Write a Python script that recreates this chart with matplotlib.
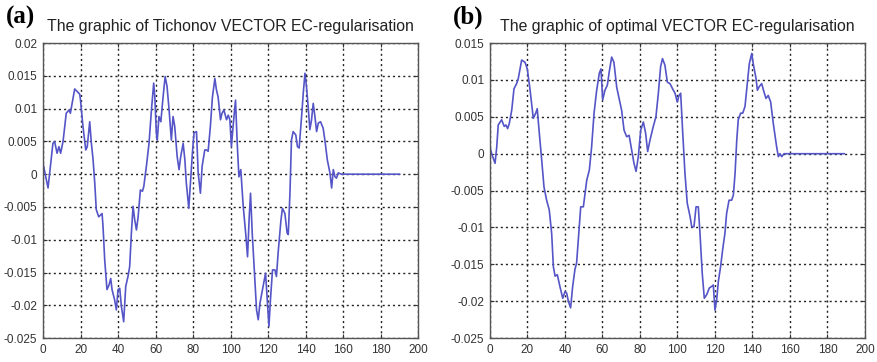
import numpy as np
import matplotlib.pyplot as plt

# panel (a): Tichonov vector EC-regularisation
xa = [0, 2.7, 5.3, 6.2, 7.5, 8.5, 9.4, 10.7, 12.4, 13.9, 14.6, 16.9, 19.6, 20, 21.3,
      22.8, 23.6, 24.9, 25.8, 26.7, 27.6, 28.4, 29.7, 31.5, 32, 32.9, 34.1, 35.2, 36.1,
      36.8, 38.2, 39.1, 40, 40.9, 41.8, 43, 44.1, 45.3, 46.2, 47.1, 48, 48.9, 49.8, 50.7,
      51.9, 53, 53.7, 55.1, 56.5, 57.8, 59, 59.6, 60.4, 60.9, 61.8, 62.8, 64, 65.1, 66.1,
      67.2, 68.4, 69.3, 70.2, 71.5, 72.5, 73.4, 74.7, 75.6, 76.4, 77.7, 78.8, 79.6, 80.5,
      81.8, 82.7, 83.9, 84.8, 86.2, 87.1, 88, 89.2, 90.3, 91.6, 92.4, 93.3, 94.6, 95.4,
      96.4, 97.8, 98.7, 99.6, 100.4, 101.3, 102.6, 103.5, 104.4, 105.4, 106.7, 108, 109,
      109.9, 110.6, 111.5, 112.5, 113.8, 114.7, 115.6, 117.3, 118.6, 119.5, 120.4, 121.2,
      122.3, 123.6, 124.4, 125.3, 126.8, 127.6, 128.9, 130.1, 130.7, 131.6, 132.4, 133.3,
      134.7, 135.6, 136.5, 137.8, 138.7, 139.6, 140.4, 141.3, 142.2, 143.1, 144, 144.9,
      145.8, 146.7, 147.9, 149.3, 150.2, 151.5, 152.9, 153.8, 154.7, 155.6, 156.4, 157.3,
      159.1, 190]
ya = [0.0017, -0.0021, 0.0047, 0.005, 0.0032, 0.0042, 0.0032, 0.005, 0.0093, 0.0098,
      0.0093, 0.013, 0.0122, 0.0113, 0.0073, 0.0037, 0.0042, 0.008, 0.0047, 0.0022,
      -0.0014, -0.0054, -0.0065, -0.006, -0.008, -0.0131, -0.0176, -0.0169, -0.0159,
      -0.0176, -0.0192, -0.0207, -0.0176, -0.0174, -0.0202, -0.0225, -0.0171, -0.0156,
      -0.0141, -0.009, -0.0049, -0.007, -0.0085, -0.0065, -0.0024, -0.0026, -0.0019,
      0.0012, 0.0047, 0.0098, 0.0139, 0.0118, 0.0063, 0.0052, 0.0088, 0.008, 0.0118,
      0.0149, 0.0134, 0.0098, 0.0052, 0.0088, 0.0073, 0.0027, 0.0007, 0.0027, 0.0047,
      0.0022, -0.0014, -0.0052, -0.0004, 0.0032, 0.0063, 0.0065, 0.0002, -0.0029, 0.0012,
      0.0037, 0.0037, 0.0035, 0.0073, 0.0118, 0.0146, 0.0129, 0.0118, 0.0083, 0.0093,
      0.0098, 0.0083, 0.009, 0.0083, 0.0042, 0.0073, 0.0113, 0.0047, -0.0004, 0.0007,
      -0.0049, -0.009, -0.0126, -0.0065, -0.0029, -0.009, -0.0141, -0.0207, -0.0222,
      -0.0197, -0.0171, -0.0151, -0.0192, -0.0232, -0.0192, -0.0146, -0.0146, -0.0156,
      -0.012, -0.007, -0.0052, -0.006, -0.009, -0.0092, -0.0029, 0.0052, 0.0065, 0.006,
      0.0042, 0.0040, 0.0088, 0.0124, 0.0154, 0.0134, 0.0103, 0.0068, 0.0083, 0.0108,
      0.0088, 0.0065, 0.0078, 0.008, 0.007, 0.0052, 0.0022, 0.0002, -0.0021, 0.0007,
      -0.0004, -0.0006, 0.0002, 0.0, 0.0]

# panel (b): optimal vector EC-regularisation
xb = [0, 0.9, 2.7, 3.6, 4.4, 6.2, 7.6, 8.5, 9.4, 10.3, 11.6, 12.8, 14.2, 15.1, 16.9,
      18.7, 19.9, 21.3, 23.1, 24.4, 25.2, 26.3, 27.6, 28.8, 30.2, 31.6, 32.9, 33.8, 34.7,
      35.9, 37.3, 38.8, 40, 40.9, 41.8, 43, 44.1, 45.3, 46.2, 47.1, 48.4, 49.8, 50.7,
      51.6, 53, 54.2, 55.5, 56.9, 58.3, 59.2, 60.1, 61.3, 62.6, 63.6, 64.9, 66.1, 67.6,
      69, 70.2, 71.5, 72.9, 74.2, 75.6, 76.8, 77.9, 79.1, 80.4, 81.8, 83, 84.1, 85.3,
      87.1, 88.5, 89.8, 91, 92, 93.3, 94.6, 96, 97.4, 98.7, 99.9, 100.8, 101.7, 102.8,
      104, 105.2, 106.7, 107.6, 108.8, 109.9, 111.1, 112, 113.2, 114.3, 115.6, 117,
      118.2, 119.1, 120, 120.9, 121.8, 123, 124.1, 125.3, 126.2, 127.5, 128.9, 129.8,
      130.7, 131.6, 132.4, 133.7, 134.8, 136, 137.2, 138.3, 139.6, 140.4, 141.9, 142.6,
      143.6, 144.9, 146.1, 147.2, 148.4, 149.7, 151.1, 152.9, 153.8, 154.7, 155.6, 156.8,
      158.2, 189]
yb = [0.0009, 0.0, -0.0013, 0.0009, 0.0039, 0.0046, 0.0037, 0.0039, 0.0034, 0.0041,
      0.0059, 0.0088, 0.0095, 0.0102, 0.0127, 0.0124, 0.0115, 0.0088, 0.0048, 0.0055,
      0.0061, 0.0028, -0.0009, -0.0045, -0.0063, -0.0076, -0.0108, -0.0153, -0.0166,
      -0.0164, -0.018, -0.0196, -0.0187, -0.0189, -0.02, -0.0209, -0.018, -0.0157,
      -0.0148, -0.0117, -0.0072, -0.0072, -0.0054, -0.0036, -0.0022, 0.0009, 0.0055,
      0.0086, 0.0109, 0.0115, 0.0073, 0.0086, 0.0093, 0.0111, 0.0131, 0.0124, 0.009,
      0.0073, 0.0059, 0.0032, 0.0023, 0.0025, 0.0005, -0.0013, -0.0024, -0.0004, 0.0032,
      0.0043, 0.0028, 0.0003, 0.0018, 0.0037, 0.005, 0.0082, 0.0118, 0.0129, 0.012,
      0.0097, 0.0095, 0.0088, 0.0082, 0.007, 0.0079, 0.0082, 0.0028, -0.0027, -0.0067,
      -0.0085, -0.0099, -0.0099, -0.0072, -0.0072, -0.0108, -0.0162, -0.0196, -0.0191,
      -0.0182, -0.018, -0.0178, -0.0212, -0.0198, -0.0173, -0.0153, -0.013, -0.0108,
      -0.0081, -0.0063, -0.0063, -0.0056, -0.0027, 0.0018, 0.0046, 0.0055, 0.0055,
      0.0064, 0.0095, 0.0122, 0.0136, 0.0122, 0.0102, 0.0086, 0.0091, 0.0095, 0.0084,
      0.0075, 0.0079, 0.007, 0.0041, 0.0009, -0.0004, 0.0, -0.0004, 0.0, 0.0, 0.0]

xticks = [0, 20, 40, 60, 80, 100, 120, 140, 160, 180, 200]
yticks_a = [-0.025, -0.02, -0.015, -0.01, -0.005, 0, 0.005, 0.01, 0.015, 0.02]
yticks_b = [-0.025, -0.02, -0.015, -0.01, -0.005, 0, 0.005, 0.01, 0.015]

titles = ["The graphic of Tichonov VECTOR EC-regularisation",
          "The graphic of optimal VECTOR EC-regularisation"]
tags = ["(a)", "(b)"]

fig = plt.figure(figsize=(8.77, 3.62), dpi=100)
axa = fig.add_axes([0.049, 0.066, 0.428, 0.815])
axb = fig.add_axes([0.5587, 0.066, 0.4276, 0.815])

for ax, x, y, yt, title, tag, tx in [(axa, xa, ya, yticks_a, titles[0], tags[0], 0.007),
                                      (axb, xb, yb, yticks_b, titles[1], tags[1], 0.516)]:
    ax.plot(x, y, color='#5555c8', lw=1.2)
    ax.set_xlim(0, 200)
    ax.set_ylim(yt[0], yt[-1])
    ax.set_xticks(xticks)
    ax.set_xticklabels([str(v) for v in xticks])
    ax.set_yticks(yt)
    ax.set_yticklabels(['0' if v == 0 else ('%g' % v) for v in yt])
    ax.grid(True, color='#222222', linestyle=(0, (1.5, 2.2)), lw=1.0)
    ax.tick_params(direction='in', length=3, labelsize=8.5, colors='#333333', pad=4,
                   top=True, right=True)
    for s in ax.spines.values():
        s.set_color('#555555')
        s.set_linewidth(1.0)
    for lab in ax.get_xticklabels() + ax.get_yticklabels():
        lab.set_family('Liberation Sans')
    ax.set_title(title, fontsize=11.4, family='Liberation Sans', color='#222222', pad=8.5)
    fig.text(tx, 0.953, tag, fontsize=18, family='Liberation Serif', weight='bold',
             va='center', ha='left')

plt.savefig('out.png', dpi=100)
